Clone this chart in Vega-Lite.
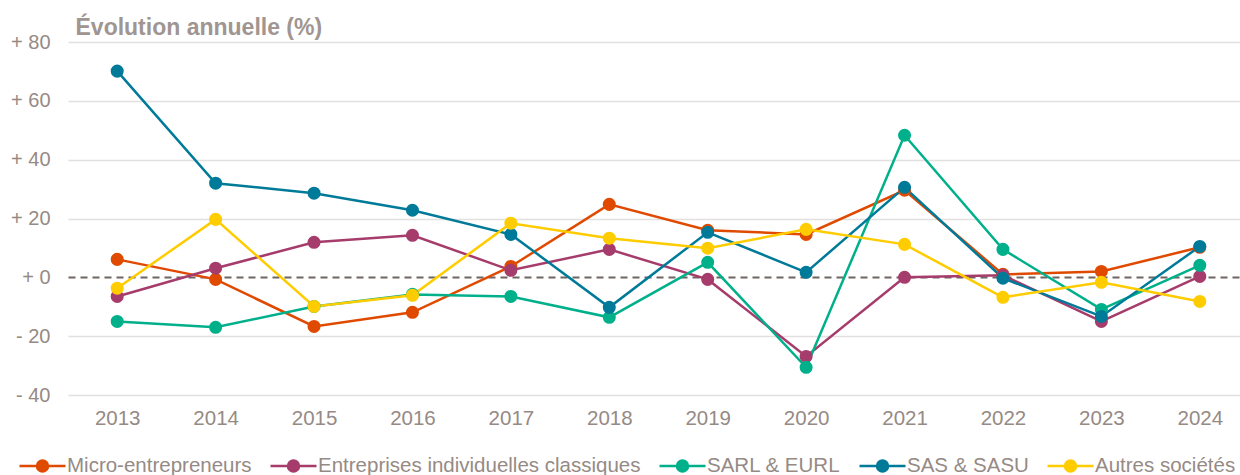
{
  "$schema": "https://vega.github.io/schema/vega-lite/v6.json",
  "autosize": {"type": "none"},
  "padding": {"left": 68, "top": 42, "right": 0, "bottom": 80},
  "width": 1181,
  "height": 353,
  "background": "white",
  "config": {
    "font": "Liberation Sans",
    "view": {"stroke": null}
  },
  "datasets": {
    "evol": [
      {"annee": "2013", "serie": "Micro-entrepreneurs", "valeur": 6.1},
      {"annee": "2014", "serie": "Micro-entrepreneurs", "valeur": -0.7},
      {"annee": "2015", "serie": "Micro-entrepreneurs", "valeur": -16.7},
      {"annee": "2016", "serie": "Micro-entrepreneurs", "valeur": -11.9},
      {"annee": "2017", "serie": "Micro-entrepreneurs", "valeur": 3.7},
      {"annee": "2018", "serie": "Micro-entrepreneurs", "valeur": 24.8},
      {"annee": "2019", "serie": "Micro-entrepreneurs", "valeur": 16.0},
      {"annee": "2020", "serie": "Micro-entrepreneurs", "valeur": 14.6},
      {"annee": "2021", "serie": "Micro-entrepreneurs", "valeur": 29.6},
      {"annee": "2022", "serie": "Micro-entrepreneurs", "valeur": 1.0},
      {"annee": "2023", "serie": "Micro-entrepreneurs", "valeur": 2.0},
      {"annee": "2024", "serie": "Micro-entrepreneurs", "valeur": 10.2},
      {"annee": "2013", "serie": "Entreprises individuelles classiques", "valeur": -6.5},
      {"annee": "2014", "serie": "Entreprises individuelles classiques", "valeur": 3.1},
      {"annee": "2015", "serie": "Entreprises individuelles classiques", "valeur": 11.9},
      {"annee": "2016", "serie": "Entreprises individuelles classiques", "valeur": 14.3},
      {"annee": "2017", "serie": "Entreprises individuelles classiques", "valeur": 2.4},
      {"annee": "2018", "serie": "Entreprises individuelles classiques", "valeur": 9.5},
      {"annee": "2019", "serie": "Entreprises individuelles classiques", "valeur": -0.7},
      {"annee": "2020", "serie": "Entreprises individuelles classiques", "valeur": -26.9},
      {"annee": "2021", "serie": "Entreprises individuelles classiques", "valeur": 0.0},
      {"annee": "2022", "serie": "Entreprises individuelles classiques", "valeur": 0.7},
      {"annee": "2023", "serie": "Entreprises individuelles classiques", "valeur": -15.0},
      {"annee": "2024", "serie": "Entreprises individuelles classiques", "valeur": 0.3},
      {"annee": "2013", "serie": "SARL & EURL", "valeur": -15.0},
      {"annee": "2014", "serie": "SARL & EURL", "valeur": -17.0},
      {"annee": "2015", "serie": "SARL & EURL", "valeur": -9.9},
      {"annee": "2016", "serie": "SARL & EURL", "valeur": -5.8},
      {"annee": "2017", "serie": "SARL & EURL", "valeur": -6.5},
      {"annee": "2018", "serie": "SARL & EURL", "valeur": -13.6},
      {"annee": "2019", "serie": "SARL & EURL", "valeur": 5.1},
      {"annee": "2020", "serie": "SARL & EURL", "valeur": -30.6},
      {"annee": "2021", "serie": "SARL & EURL", "valeur": 48.3},
      {"annee": "2022", "serie": "SARL & EURL", "valeur": 9.5},
      {"annee": "2023", "serie": "SARL & EURL", "valeur": -10.9},
      {"annee": "2024", "serie": "SARL & EURL", "valeur": 4.1},
      {"annee": "2013", "serie": "SAS & SASU", "valeur": 70.1},
      {"annee": "2014", "serie": "SAS & SASU", "valeur": 32.0},
      {"annee": "2015", "serie": "SAS & SASU", "valeur": 28.6},
      {"annee": "2016", "serie": "SAS & SASU", "valeur": 22.8},
      {"annee": "2017", "serie": "SAS & SASU", "valeur": 14.6},
      {"annee": "2018", "serie": "SAS & SASU", "valeur": -10.2},
      {"annee": "2019", "serie": "SAS & SASU", "valeur": 15.3},
      {"annee": "2020", "serie": "SAS & SASU", "valeur": 1.7},
      {"annee": "2021", "serie": "SAS & SASU", "valeur": 30.6},
      {"annee": "2022", "serie": "SAS & SASU", "valeur": -0.3},
      {"annee": "2023", "serie": "SAS & SASU", "valeur": -13.3},
      {"annee": "2024", "serie": "SAS & SASU", "valeur": 10.5},
      {"annee": "2013", "serie": "Autres sociétés", "valeur": -3.7},
      {"annee": "2014", "serie": "Autres sociétés", "valeur": 19.7},
      {"annee": "2015", "serie": "Autres sociétés", "valeur": -9.9},
      {"annee": "2016", "serie": "Autres sociétés", "valeur": -6.1},
      {"annee": "2017", "serie": "Autres sociétés", "valeur": 18.4},
      {"annee": "2018", "serie": "Autres sociétés", "valeur": 13.3},
      {"annee": "2019", "serie": "Autres sociétés", "valeur": 9.9},
      {"annee": "2020", "serie": "Autres sociétés", "valeur": 16.3},
      {"annee": "2021", "serie": "Autres sociétés", "valeur": 11.2},
      {"annee": "2022", "serie": "Autres sociétés", "valeur": -6.8},
      {"annee": "2023", "serie": "Autres sociétés", "valeur": -1.7},
      {"annee": "2024", "serie": "Autres sociétés", "valeur": -8.2}
    ]
  },
  "data": {"name": "evol"},
  "encoding": {
    "x": {
      "field": "annee",
      "type": "ordinal",
      "scale": {"type": "point", "padding": 0.5},
      "axis": {
        "title": null,
        "labelAngle": 0,
        "domain": false,
        "ticks": false,
        "grid": false,
        "labelFontSize": 20.5,
        "labelColor": "#968A85",
        "labelPadding": 13
      }
    },
    "y": {
      "field": "valeur",
      "type": "quantitative",
      "scale": {"domain": [-40, 80], "nice": false, "zero": false},
      "axis": {
        "values": [-40, -20, 0, 20, 40, 60, 80],
        "labelExpr": "(datum.value < 0 ? '- ' : '+ ') + abs(datum.value)",
        "domain": false,
        "ticks": false,
        "grid": true,
        "gridColor": {"condition": {"test": "datum.value === 0", "value": "#6E6461"}, "value": "#E4E0E0"},
        "gridDash": {"condition": {"test": "datum.value === 0", "value": [7, 5]}, "value": []},
        "gridWidth": {"condition": {"test": "datum.value === 0", "value": 1.8}, "value": 1.5},
        "labelFontSize": 20,
        "labelColor": "#968A85",
        "labelPadding": 18,
        "title": "Évolution annuelle (%)",
        "titleAngle": 0,
        "titleAlign": "left",
        "titleBaseline": "alphabetic",
        "titleX": 7,
        "titleY": -8,
        "titleFontSize": 23,
        "titleFontWeight": "bold",
        "titleColor": "#A09591"
      }
    },
    "color": {
      "field": "serie",
      "type": "nominal",
      "scale": {
        "domain": ["Micro-entrepreneurs", "Entreprises individuelles classiques", "SARL & EURL", "SAS & SASU", "Autres sociétés"],
        "range": ["#E04A00", "#A63C6B", "#00B08A", "#007A99", "#FFCC00"]
      },
      "legend": {
        "title": null,
        "orient": "none",
        "direction": "horizontal",
        "legendX": -50,
        "legendY": 399,
        "padding": 0,
        "columnPadding": 13,
        "symbolType": "M-1,0H1M0.24,0A0.24,0.24,0,1,1,-0.24,0A0.24,0.24,0,1,1,0.24,0Z",
        "symbolSize": 2116,
        "symbolStrokeWidth": 2.5,
        "labelFontSize": 20.5,
        "labelLimit": 0,
        "labelColor": "#968A85",
        "labelOffset": 0,
        "encode": {
          "symbols": {
            "update": {
              "fill": {"scale": "color", "field": "value"},
              "stroke": {"scale": "color", "field": "value"},
              "opacity": {"value": 1}
            }
          }
        }
      }
    }
  },
  "layer": [
    {"mark": {"type": "line", "strokeWidth": 2.5}},
    {"mark": {"type": "point", "filled": true, "size": 170, "opacity": 1, "shape": "circle"}}
  ]
}
